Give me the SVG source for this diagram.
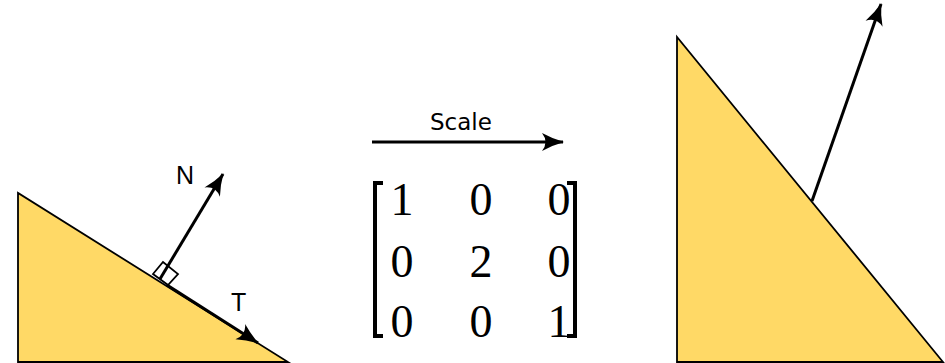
<svg xmlns="http://www.w3.org/2000/svg" width="945" height="363" viewBox="0 0 945 363">
<defs>
<style>
.tri{fill:#FFD966;stroke:#000;stroke-width:1.8;stroke-linejoin:miter}
.arr{fill:none;stroke:#000;stroke-width:3}
.lbl{font-family:"Liberation Sans",Arial,sans-serif;font-size:25px;fill:#000}
.scl{font-family:"DejaVu Sans",sans-serif;font-size:23px;fill:#000}
.num{font-family:"Liberation Serif","DejaVu Serif",serif;font-size:46px;fill:#000;text-anchor:middle}
.brk{fill:none;stroke:#000;stroke-width:4}
</style>
<marker id="ah" viewBox="0 0 22 18" refX="21" refY="9" markerWidth="22" markerHeight="18" markerUnits="userSpaceOnUse" orient="auto" overflow="visible">
<path d="M0,0 Q11,6 22,9 Q11,12 0,18 Q7,9 0,0 Z" fill="#000" stroke="none"/>
</marker>
</defs>
<rect width="945" height="363" fill="#fff"/>
<g id="left-slope">
<polygon class="tri" points="18,193 18,362 288,362"/>
<polygon points="153,274 163,262 178,274 168,285" fill="#fff" stroke="#000" stroke-width="1.8"/>
</g>
<g id="right-slope">
<polygon class="tri" points="677,37 677,362 943,362"/>
</g>
<g id="connectors">
<line class="arr" x1="160" y1="279" x2="223" y2="174" marker-end="url(#ah)"/>
<line class="arr" x1="167" y1="285" x2="258" y2="343" marker-end="url(#ah)"/>
<line class="arr" x1="812" y1="201" x2="881" y2="4" marker-end="url(#ah)"/>
<line class="arr" x1="372" y1="142" x2="563" y2="142" marker-end="url(#ah)"/>
</g>
<g id="labels">
<text class="lbl" x="176" y="184">N</text>
<text class="lbl" x="231" y="311">T</text>
<text class="scl" x="430" y="130">Scale</text>
</g>
<g id="matrix">
<path class="brk" d="M383,183 H375 V336 H383"/>
<path class="brk" d="M567,183 H575 V336 H567"/>
<text class="num" x="402" y="215">1</text>
<text class="num" x="481" y="215">0</text>
<text class="num" x="559" y="215">0</text>
<text class="num" x="402" y="277">0</text>
<text class="num" x="481" y="277">2</text>
<text class="num" x="559" y="277">0</text>
<text class="num" x="402" y="337">0</text>
<text class="num" x="481" y="337">0</text>
<text class="num" x="559" y="337">1</text>
</g>
</svg>
